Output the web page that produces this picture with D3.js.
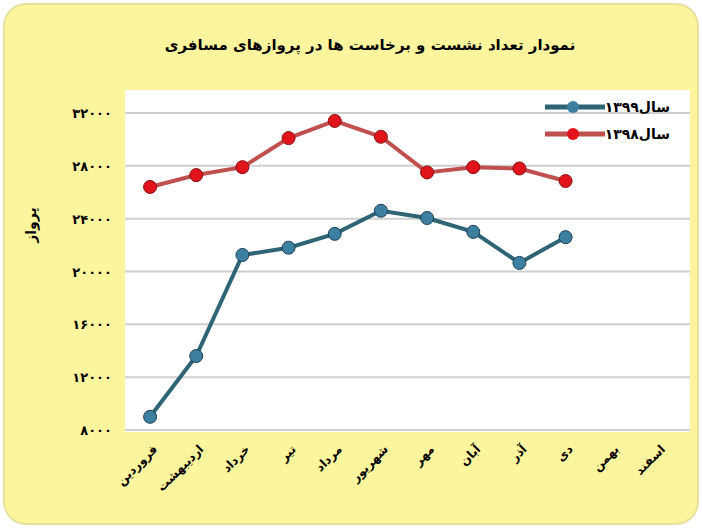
<!DOCTYPE html>
<html><head><meta charset="utf-8">
<script src="https://cdn.jsdelivr.net/npm/d3@7"></script>
<style>body{margin:0;background:#fff}svg{font-family:"DejaVu Sans",sans-serif}</style>
</head><body><svg id="c" width="702" height="528"></svg>
<script>
const months = ["فروردین","اردیبهشت","خرداد","تیر","مرداد","شهریور","مهر","آبان","آذر","دی","بهمن","اسفند"];
const y1398 = [26400,27300,27900,30100,31400,30200,27500,27900,27800,26850];
const y1399 = [9000,13600,21250,21800,22850,24600,24050,23000,20650,22600];
const yTicks = [8000,12000,16000,20000,24000,28000,32000];
const fa = n => String(n).replace(/\d/g, d => "۰۱۲۳۴۵۶۷۸۹"[d]);

const svg = d3.select("#c");
svg.append("rect").attr("x",4).attr("y",4).attr("width",694).attr("height",520).attr("rx",22)
  .attr("fill","#fdf59e").attr("stroke","#e8e0a0").attr("stroke-width",2);
svg.append("text").attr("x",370).attr("y",50).attr("text-anchor","middle").attr("font-size",15)
  .attr("font-weight","bold").text("نمودار تعداد نشست و برخاست ها در پروازهای مسافری");

const x = d3.scaleBand().domain(months).range([127,681]);
const y = d3.scaleLinear().domain([8000,32000]).range([430,113]);
svg.append("rect").attr("x",125).attr("y",90).attr("width",565).attr("height",342).attr("fill","#fff");
svg.append("g").selectAll("line").data(yTicks).join("line")
  .attr("x1",125).attr("x2",690).attr("y1",d=>y(d)).attr("y2",d=>y(d)).attr("stroke","#cfcfcf").attr("stroke-width",2);
svg.append("g").selectAll("text").data(yTicks).join("text")
  .attr("x",112).attr("y",d=>y(d)+5).attr("text-anchor","end").attr("font-size",13).attr("font-weight","bold")
  .text(d=>fa(d));
svg.append("text").attr("transform","translate(36,225) rotate(-90)").attr("text-anchor","middle")
  .attr("font-size",14).attr("font-weight","bold").text("پرواز");
svg.append("g").selectAll("text").data(months).join("text")
  .attr("transform",d=>`translate(${x(d)+x.bandwidth()/2+8},450) rotate(-45)`).attr("text-anchor","end")
  .attr("font-size",12).attr("font-weight","bold").text(d=>d);

const cx = i => x(months[i]) + x.bandwidth()/2;
function series(data, line, dot, dark){
  svg.append("path").datum(data).attr("fill","none").attr("stroke",line).attr("stroke-width",4)
    .attr("d", d3.line().x((d,i)=>cx(i)).y(d=>y(d)));
  svg.append("g").selectAll("circle").data(data).join("circle")
    .attr("cx",(d,i)=>cx(i)).attr("cy",d=>y(d)).attr("r",6.5).attr("fill",dot).attr("stroke",dark).attr("stroke-width",1);
}
series(y1398,"#c0504d","#e0141a","#8a1010");
series(y1399,"#2e6474","#3c7fa0","#1d3f55");

const leg = [["سال۱۳۹۹","#2e6474","#3c7fa0"],["سال۱۳۹۸","#c0504d","#e0141a"]];
leg.forEach((l,i)=>{
  const yy = 107 + i*27;
  svg.append("line").attr("x1",545).attr("x2",605).attr("y1",yy).attr("y2",yy).attr("stroke",l[1]).attr("stroke-width",5);
  svg.append("circle").attr("cx",573).attr("cy",yy).attr("r",6).attr("fill",l[2]);
  svg.append("text").attr("x",670).attr("y",yy+5).attr("text-anchor","end").attr("font-size",14).attr("font-weight","bold").text(l[0]);
});
</script></body></html>
